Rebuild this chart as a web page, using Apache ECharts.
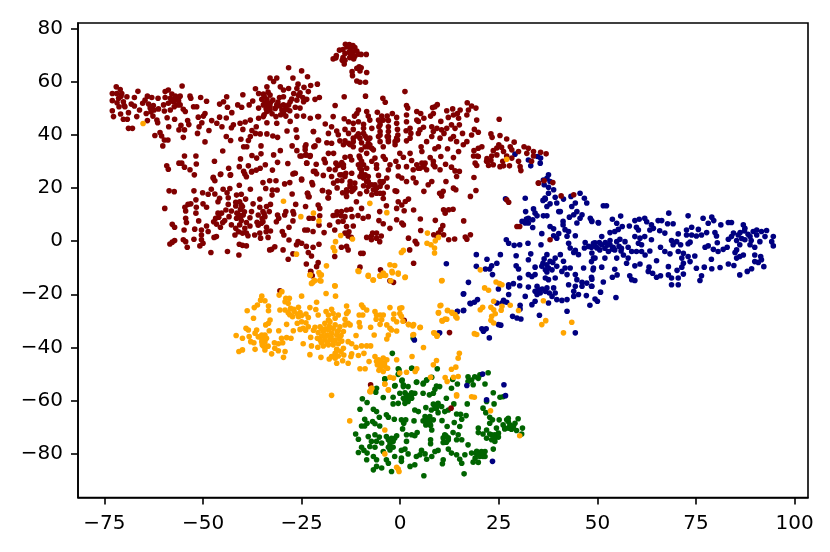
<!DOCTYPE html>
<html>
<head>
<meta charset="utf-8">
<style>html,body{margin:0;padding:0;background:#fff}#main{width:830px;height:552px}</style>
<script src="https://cdn.jsdelivr.net/npm/echarts@6/dist/echarts.min.js"></script>
</head>
<body>
<div id="main"></div>
<script>
const xTicks = [-75, -50, -25, 0, 25, 50, 75, 100];
const yTicks = [-80, -60, -40, -20, 0, 20, 40, 60, 80];

const redPoints = [[-72,58],[-71,57],[-73,55.5],[-71.9,55.5],[-70.6,55.5],[-69.3,54.3],[-73,52.8],[-71.4,53.7],[-70.2,52.4],[-71.3,50.5],[-73,49],[-70.9,47.8],[-68.9,48.3],[-72.7,46.8],[-70.2,45.8],[-69.2,45.8],[-69.8,50.5],[-68.2,51.5],[-67.4,50.8],[-66.5,56.3],[-67.4,54],[-66.8,46.8],[-66.1,49.3],[-65.3,51.8],[-64.1,54.5],[-63,54],[-64.7,53],[-63.8,51.5],[-64.4,48],[-63.4,50],[-62.4,49.3],[-61.3,49.7],[-62.7,47],[-64.1,45.3],[-61.7,45.5],[-61.5,44.5],[-61.4,53.7],[-59.6,56.2],[-58.8,56.8],[-57.9,55.3],[-59.6,54],[-58.3,53.7],[-57,54.5],[-55.8,54.5],[-55.3,58.3],[-57.5,52.4],[-56.2,52.8],[-58.8,51.8],[-57.3,50.5],[-55.8,51.2],[-55,49.6],[-54.5,48.7],[-58.3,49.3],[-59.8,48.9],[-60,51.2],[-59.1,46.4],[-57.2,45.8],[-58.7,43],[-55.6,43.5],[-56.1,41.8],[-54.7,41.8],[-55,39],[-60.9,40.8],[-60.5,39.5],[-62.2,39.7],[-59.8,38],[-58.9,38],[-60.2,35.8],[-68.9,42.4],[-67.9,42.4],[-53.3,54.5],[-53.1,53.7],[-50.6,54],[-49.1,52.6],[-52.4,50.5],[-51.6,50.5],[-49.5,48],[-49.9,47],[-51.2,46.6],[-53.9,45.3],[-53.6,43.8],[-50.3,44.5],[-51,43],[-51.4,40.5],[-48.5,41.6],[-49.5,37.3],[-47.8,45.3],[-46.5,44.3],[-45.8,46.6],[-45.2,43],[-44.1,46.3],[-45.8,51.5],[-44.8,52.4],[-44,54.3],[-43.8,50.3],[-42.7,48.3],[-41.2,51.2],[-39.9,55],[-40.2,50.3],[-38.3,51.2],[-37.4,52.7],[-42.3,43.7],[-42.8,42.6],[-40.6,44.3],[-39.3,44.8],[-38,45.5],[-39.9,42],[-44.1,39.3],[-43,37.8],[-40.4,38.3],[-37.6,41.6],[-36.7,40.5],[-38,39.3],[-38.5,37.8],[-35.5,40.3],[-33.8,40.3],[-32.3,39.5],[-31.1,39],[-39.7,35.5],[-38.9,35.5],[-35.3,35.8],[-45,33.9],[-54.7,32],[-51.8,32],[-56.1,29.3],[-55.4,29.3],[-51.7,29],[-47.1,30],[-59.2,28.3],[-58.8,27],[-54.7,27.8],[-53.3,26.8],[-52.2,24.9],[-43.5,27.4],[-45.5,25.2],[-47.4,24],[-43,24.9],[-40.5,30.9],[-37.6,32.2],[-35.3,32.8],[-36.4,31.2],[-40.8,28],[-38.5,28.3],[-39.7,26.2],[-37.6,26.2],[-35.5,27.4],[-34.2,28.7],[-31.1,29.6],[-28.5,29.2],[-32.1,32.4],[-30.4,34],[-27.4,35.8],[-26.2,39],[-28.7,41.4],[-22,41.2],[-26.2,34],[-25.4,32],[-24.1,35.5],[-23.9,32.4],[-22.8,32.2],[-23.7,29.3],[-21.6,35.8],[-20.7,37.8],[-26.9,25.5],[-25,23.3],[-21.6,26.2],
[-28.3,65.2],[-25,64],[-33,61.3],[-31.3,61.3],[-27.2,61.3],[-23.5,61.8],[-21,59],[-25.9,59],[-32.1,60],[-33.8,58],[-30.4,58],[-22.7,58.5],[-36.7,57.3],[-28.3,57.4],[-26.2,57.4],[-24.4,57.8],[-29.6,56.8],[-35.9,55.5],[-34.7,55.3],[-33,54.9],[-30.6,54],[-27,55.5],[-25.4,55.8],[-23.3,56.2],[-20.5,54],[-35.1,53.3],[-33.8,53.3],[-32.3,53],[-29.6,54.3],[-27.9,52.4],[-26.2,53],[-24.5,52.4],[-21.6,53.3],[-34.7,51.2],[-33,50.5],[-31.3,51.2],[-29.6,51.2],[-28.3,51.2],[-23.7,53.3],[-35.9,50],[-33.8,48.7],[-31.7,49.9],[-30,49.3],[-28.8,49.5],[-26.6,50.3],[-25.4,50],[-35.9,46.2],[-34.7,46.8],[-33,49.3],[-31.5,46.8],[-29.6,48],[-26.2,47],[-24.5,47],[-22.8,46.2],[-20.7,46.8],[-33.8,44.5],[-31.3,44.3],[-27.9,45],[-26.4,41.8],[-36.5,43],
[-13.9,74],[-12.9,73.9],[-12,73.5],[-11.5,72.8],[-13.5,73],[-12.6,72.5],[-14.5,72],[-11,71.5],[-12,71],[-13,71],[-14,70.5],[-12.5,70],[-11.5,69.5],[-10.6,70.3],[-12.8,69],[-11.8,68.5],[-9.9,70.2],[-8.6,70.2],[-15.4,71.8],[-16.2,69.8],[-17,68.5],[-16.3,68.9],[-14.5,69],[-14,68],[-14.2,66.6],[-14.7,68],[-10.4,65.5],[-9.9,65.2],[-11,65],[-10.2,64],[-8.5,63.4],[-12.2,63.7],[-12.1,62.2],[-11,60.2],[-10.2,59.7],[-8.8,59.7],
[1.2,56.2],[-14.2,54.3],[-8.8,54.5],[-4.4,53.7],[-3.8,52.2],[-16.5,51],[1.6,51],[1.9,50],[-10.6,49.3],[-11,48],[-11.6,47],[-8.5,48.7],[-8.1,47],[-5.8,48.4],[-4.7,47],[-3.3,47],[-2,48],[-17,46.8],[-20.9,46.8],[-14.2,46],[-13.1,44.9],[-11.9,44.3],[-10.6,44.9],[-9.3,43.9],[-7.7,45.5],[-5.5,45.5],[-4.3,45.5],[-3,45.3],[-0.9,46.5],[-0.9,44.3],[1.6,47.4],[1.6,44.9],[4.2,48.7],[5.2,48],[6,46.2],[4.2,45.5],[4.6,45],[7.7,47],[8.4,48],[8.8,50.5],[9.4,51.3],[8.2,50.2],[10.3,45],[11.8,49],[13.3,49.7],[12.2,46.5],[13.5,47.4],[15.2,49.3],[14.5,48],[14.8,46.2],[17,52],[18.1,50.8],[19.2,50],[17.3,49.3],[16.9,47.4],[19.4,45.5],[25.1,45.8],
[-19,44],[-17.4,43],[-16.1,41.4],[-18.2,40.5],[-15.7,40],[-22,41.2],[-14,42],[-11.9,42],[-9.3,42.4],[-7.2,42.4],[-5.4,43],[-5.1,41.2],[-3,43],[-3,41.2],[-0.7,42],[1.5,41.5],[2.5,42.4],[2.7,40.5],[5,41.8],[5.9,42.8],[4.6,40.5],[8,43],[9.3,42.4],[8.4,41.2],[10.5,41.8],[11.8,42.4],[13,43.7],[15,43.7],[13.9,42.4],[15.8,40.5],[18.8,42],[19.8,40.9],[18.1,39.9],[23,40.3],[23.3,39],[25.3,39.7],[27,38.4],[28.9,37.2],[-13.1,40.5],[-11,39.5],[-10.2,38.7],[-8.9,39.5],[-7.7,38.7],[-5.5,39.3],[-3,39.3],[-0.6,39.9],[-0.7,38],[2.5,38.7],[1.6,37.7],[5.3,35.5],[6.7,37.4],[8,39.3],[10.1,38.7],[11.1,40.5],[13.5,39.3],[12.8,38.4],[14.3,37.4],[16.9,37.4],[16,36.2],
[-15.3,37.7],[-14,37.7],[-11.9,37.4],[-9.8,37],[-8.1,36.8],[-5.1,37.4],[-3,37.4],[-18.6,37],[-17.4,36.8],[-20.8,38],[-21.9,35.5],[-23.9,36.2],[-24.1,34.3],[-23.9,32.4],[-25,32],[-22.9,31.8],[-23.7,29.3],[-12.7,36.2],[-11.9,35.5],[-8.1,35.5],[-6.8,34.3],[-4.3,35.5],[-1.3,36.2],[-9.9,34.3],[9.7,35.5],[8.8,34.7],[12,34.7],[20.7,35.5],[19.8,34.9],[18.7,34],[18.6,32],[19.8,31.8],[14.8,33.7],[25,36.2],[24.5,35],[25.7,35.3],[23.6,34],[26.2,33.7],[27.9,35.5],[28.3,34.3],[30,33.7],[31.4,35.5],[32.5,34.9],[32.1,33],[33.8,33.7],[35.6,33.4],[37,32.8],[33.8,32],[33.3,30],[23.2,32],[24.5,32.4],[21.9,30],[23,30.3],[22.4,28.4],[23.6,28.7],[25.3,28],[26.2,28.3],[27.7,28.3],[28.3,31.2],[30,30],[30.4,28],[30.6,26.5],[19,29.3],[19.4,28.4],[18.7,23.9],[19.2,19],[17.8,16.8],[35,21.8],
[-18.2,33],[-16.9,33],[-19.3,30.8],[-19,29.5],[-21.3,28.9],[-16.3,29.3],[-14.8,29.5],[-14,31.5],[-12.7,31.8],[-12.3,30.5],[-10.4,32],[-9.8,30],[-8.5,33],[-6.4,31.2],[-7.2,30],[-4.3,31.8],[-3.8,30.8],[-0.1,33],[0.8,31.5],[2.5,33],[2.9,30.3],[5.5,33.7],[7.6,31.4],[10.3,31.8],[13.5,31.4],[-1.1,30],[-0.5,28],[1.6,28],[4.2,28.7],[5.5,29.3],[6,28],[5,27.4],[3.3,26.8],[6.7,26.8],[8.4,30],[8.8,28],[10.1,26.8],[11.5,28.9],[13,27.8],[13.9,26.4],[15,26.2],[-15.9,28.3],[-14.4,27.8],[-16.5,26.8],[-22,26.2],[-21.2,25.3],[-19.5,24.7],[-18,27],[-17.4,24.3],[-15.3,24.9],[-13.8,25.5],[-12.3,25.5],[-10.2,27.4],[-9.8,25.5],[-9.3,23.7],[-8.1,22.4],[-6,28.7],[-6,27.4],[-5.5,24.7],[-2.6,28.7],[-3,26.8],[-3.4,23.7],[-4.7,21.8],[-0.5,24.5],[0.4,23.7],[1.6,22.4],[3.3,23.7],[4,22],[14.3,24.3],[11.6,22.4],[8,22.4],[7.1,21.2],[13.5,19.9],[14.1,19.3],[6,18.7],[10.9,18.7],[10,18],[10.5,17],[-25,23],[-22.4,22],[-22.2,21.2],[-23.5,18],[-23.3,16.8],[-19.7,19],[-18.2,18.4],[-18.2,16.2],[-16.9,21.8],[-15.9,22.7],[-14.8,22.7],[-12.7,22.4],[-11.5,21.8],[-12.7,20.5],[-11.5,20],[-13.6,19.3],[-10.2,17.8],[-9.3,20.8],[-8.1,20.5],[-8.5,18.7],[-6.8,19.3],[-7.2,17.4],[-5.1,20.5],[-6,18],[-4.3,18],[-3.3,20.3],[-1.3,18.9],[-0.9,18.7],[-13.6,16.8],
[-47.4,23.6],[-47,22.7],[-45.6,25],[-43.1,24.8],[-39,24.2],[-39.4,25.2],[-37.7,26],[-36.5,26.7],[-32.4,26.7],[-34.8,22],[-33.1,22.7],[-31.5,22.7],[-27.2,25.2],[-26.6,25.5],[-29.3,21.5],[-28,22],[-40.8,21],[-38,19.5],[-34.1,19.8],[-32.4,19.2],[-31.2,19.2],[-32.5,17.3],[-27.4,17.7],[-52.3,18.9],[-58.6,18.9],[-57.3,18.6],[-50.1,18.2],[-48.7,17.6],[-47.9,19.5],[-47,17.7],[-44.9,19.5],[-43.9,18.2],[-43.2,19.8],[-43.6,16.3],[-41.5,17.3],[-40.3,17.6],[-39.2,15.8],[-45.8,16.1],[-46.2,14.8],[-51.8,15.5],[-50,14],[-49.1,12.7],[-53.1,14],[-53.8,13.8],[-59.7,12.3],[-54.6,12.7],[-54.4,11.3],[-51.7,12.7],[-51.8,10.5],[-43.6,13.8],[-41.7,14.6],[-40.7,14.8],[-41.7,13.2],[-40.3,13.6],[-37.3,14],[-35.6,15.8],[-32.9,13.8],[-44.2,11.7],[-42.8,11.3],[-40.5,12],[-41.4,10.5],[-39.8,9.8],[-37.7,11.1],[-35.6,12.7],[-33.9,13],[-33.2,11.1],[-34.8,11.1],[-36,9.8],[-34.3,9.2],[-46.2,10.5],[-45.3,10.5],[-46.8,8.6],[-43.4,9.2],[-44.5,7.7],[-41.5,8.6],[-40.3,7.7],[-38.1,8.8],[-31.1,9.8],[-30.8,8.6],[-31.4,7.3],[-29,11.1],[-29.3,9.8],[-27.2,11.1],[-27,10.2],[-27.2,7.6],[-26.5,13.8],[-24,13],[-23.5,18],[-23.1,16.7],[-20.8,13.6],[-20.4,12.3],[-19.7,19],[-18,18.3],[-18.3,16.3],[-16,20],[-14.6,18.2],[-13.6,18.6],[-54.4,8.6],[-54.2,7],[-51.1,7.6],[-57.8,6.3],[-57.2,5.2],[-49.1,5.7],[-47.3,7.3],[-46.6,6.4],[-45.6,5.2],[-50.4,4.2],[-48.7,3.6],[-52.1,4.5],[-54.8,4.2],[-42.8,6.1],[-41.7,4.8],[-40.7,6.1],[-39.4,4.8],[-38.1,5.7],[-36.3,7.1],[-35.2,6.7],[-34.8,7.3],[-33.9,5.2],[-32.9,3.8],[-41.9,2.3],[-39,3],[-38.6,2],[-36.9,2.3],[-35.6,3],[-35.4,1.1],[-33.5,1.4],[-46.6,1.7],[-47.2,1.4],[-52.3,0.7],[-50.4,2.3],[-50.4,0.5],[-50,-0.8],[-50.8,-1.8],[-57.2,0.2],[-57.8,-0.4],[-58.4,-1.1],[-55,0.5],[-54.4,-0.2],[-54,-2.3],[-40.8,-1.2],[-40,-1.6],[-39,-1.8],[-48,-4.3],[-43.8,-3.9],[-40.9,-5.2],[-32.6,-3.1],[-31.8,-2.1],[-33.1,-3.3],[-29.7,-3.3],[-28.4,-6.8],[-27.2,-4.8],[-29.9,3.6],[-29.5,2.3],[-28.2,0.4],[-28.2,5.2],[-25.9,-0.2],[-26.3,-1.4],[-25,-0.8],[-23.8,-2],[-22.1,-2.3],[-20.6,-1.2],[-23.3,-4.3],[-22.5,-5.6],[-23.8,-8.6],[-20.8,-8.1],[-21.2,-9.6],[-22.7,-11.4],[-22.3,-13],[-30.5,-18.7],
[-23.5,4.2],[-24.2,4.2],[-22.1,3.6],[-23.1,8.6],[-22.1,8.6],[-20.4,9.5],[-20.6,6],[-19.3,3.2],[-17.9,6],[-17,9.6],[-16.2,9.8],[-14.9,11.1],[-13.6,11.7],[-15.7,7.3],[-14,9.2],[-16.6,4.2],[-13.6,5.5],[-12.2,9.2],[-10.7,9.6],[-8.1,9.2],[-9.4,8.6],[-9.8,12.3],[-11.1,14.8],[-5.2,11.1],[-3.5,13.3],[-5.4,7.7],[-4.3,6.5],[-2.6,4.8],[-11.9,5.7],[-13.2,1.9],[-12.4,1.4],[-8.5,1.4],[-7.3,1.9],[-6,1.1],[-4.8,1.9],[-7.3,0.5],[-5.2,-0.2],[-14.9,-2.3],[-13.6,-2],[-13.2,-3.3],[-16.6,-5.8],[-9.4,-4.6],[-10,-4.6],[-0.9,8],[-0.5,14.8],[-0.9,12.3],[-4.3,16],
[1,11.4],[3.4,11.7],[2.1,15.8],[1.3,14.9],[0.4,13.6],[27,15.5],[27.5,14.6],[11,11.8],[11.4,10.5],[12.3,11.8],[13.4,12],[5.1,8.3],[8.9,7.8],[16.1,7.6],[0.4,6.8],[0.8,6.1],[5.2,4],[10.8,5.8],[10.3,4.3],[9.7,3],[8.5,2.4],[9.3,2],[11,2.4],[2.1,1.1],[3.8,-0.1],[4.2,-1],[12.3,0.5],[13.8,0.8],[16.5,1.5],[17.8,2.4],[16.9,0.7],[2.4,-3.3],[3.4,-8.3],[29.6,5.5],[30.3,5.5],[38,0.5],[35.1,21.8],[36.5,22.7],[38.7,22],[40.8,17],[44,17.4],[1,-29.8],[12.5,-34.4],[-22.7,-11.5],[-2.6,-14.9],[-1.7,-15.5],[-10.2,-9.8],[-5,-10.8],[-7.5,-54],[12.9,-62.8],
[-9.3,40.5],[-8.5,38.7],[-10.6,40.3],[-11.9,38.7],[-7.7,36.2],[-8.9,35.5],[-7.2,34.9],[-10.2,31.2],[-9.3,28.7],[-10.6,28.7],[-8.5,27.4],[-9.8,26.8],[-8.9,24.9],[-8.1,24.3],[-10.2,24.3],[-7.2,21.2],[-8.5,22.4],[-6.4,21.2],[-6,19.9],[-5.1,18],[-5.1,22.4],[-4.3,22.4],[-14.4,28.7],[-15.3,28.7],[-14.8,24.9],[-14,24.3],[-12.7,21.2],[-11.9,19.3],[-12.3,18.7],[5.9,28],[6.3,29.3],[4.6,27.4],[8.4,28.7],[-13.1,36.8],[-14.4,36.2],[-5.1,43.7],[-5.1,44.9],[-3.3,39.3],[-3,38],[-5.1,39.9],[-0.9,38.7],[-1.3,37.4],
[-34.3,52],[-32.9,52],[-33.5,51.5],[-31,52.3],[-30.5,50.8],[-29,50],[-28,49],[-30.3,47.5],[-29,47],[-34,49.8],[-34.5,47.5],[-32.5,47.9],[-27.5,53.4],[-25.8,54.8],[-24.7,54],[-33.5,56],[-34.5,54.5],[-70.8,54.5],[-71.8,52],[-70,51],[-57,53.6],[-58,52.8],[-56.5,51.2],[-62.6,51],[-63.2,48.6],
[-41,10],[-40.5,9],[-39.5,11],[-40,13],[-39,7],[-41,3.5],[-40,3],[-35,8.5],[-34.5,10.3],[-36,6],[-34,3.5],[-46,9],[-45,7],[-15,9.5],[-14.5,7.5],[-16,11],[-12.5,12],[-13,3.5],[-14,3],[-7,3],[-6,3],[19.5,32],[22,31],[26,30],[27,32]];

const navyPoints = [[37.6,24.9],[37.2,23.6],[36.3,23],[38,22.4],[37.6,20.2],[38.9,19.3],[37.6,18],[39.3,16.5],[41.4,15.8],[36.8,15.8],[36.2,15.3],[31.7,16.1],[38,14],[39.7,14.3],[37.2,13],[40.6,11.1],[40.2,11.1],[33.8,12.1],[31.8,11.1],[34.2,10.5],[34.7,9.5],[36.3,9.5],[37.2,9.5],[32,8.3],[32.5,8.6],[30.9,7.4],[31.7,6.8],[32.5,6.8],[33.6,8],[33.6,5.1],[41.3,7.4],[41.3,6.1],[38,5.5],[38.9,4.6],[43.3,16.8],[45.6,18],[46.7,16.1],[47.3,14.3],[44.4,14.3],[43.5,13],[44.8,11.1],[44,9.9],[42.9,9],[48.2,8.6],[48.6,7.4],[46.1,9.9],[50.3,6.8],[44.8,6.8],[45.6,8.6],[41.8,4.3],[42.7,3.6],[42.3,1.8],[44.4,2],[35.9,2.8],[38.9,2],[40.2,2.8],[39.7,1.1],[35.7,-1.4],[26.9,0.5],[27.5,-0.8],[28.9,-1.6],[30.3,-1.4],[32.4,-0.8],[42.7,-0.8],[43.1,-2.6],[44.4,-3.5],[46.9,-0.5],[47.8,-2],[46.7,-2.6],[49,-0.8],[49.9,-2.6],[45.2,-5.1],[44,-4.3],[48.6,-4.5],[49,-6.4],[25.4,-5.1],[19.3,-5.1],[22,-6.8],[29.4,-5.5],[33.1,-4.8],[32.5,-7],[19.3,-9.5],[24.5,-8.3],[23.2,-9.3],[22.7,-10.5],[21.6,-10.5],[23.4,-12.6],[11.7,-8.5],[29.4,-9.3],[30,-10.5],[37.2,-5.1],[40.6,-5.1],[39.3,-6.4],[38,-7.6],[36.2,-8.3],[37.2,-8.9],[35.9,-9.5],[34.2,-9.8],[36.8,-10.8],[37.6,-10.1],[39.7,-9.5],[38.5,-10.8],[41.4,-7.6],[43.1,-10.1],[41.8,-10.1],[41,-11.4],[46.5,-10.1],[49,-10.1],[44.4,-12.6],[42.3,-12.6],[32.5,-12.6],[34.2,-12.6],[33.4,-13.3],[30.3,-13.9],[36.8,-13.9],[37.6,-14.5],[39.3,-13.9],[44.8,-14.5],[46.1,-15.5],[48.6,-14.3],[47.3,-15.8],[42.7,-16.4],[44.4,-17],[46.1,-17],[48.6,-17],[27.5,-16.4],[28.7,-16],[30.3,-16.8],[27.5,-17.3],[24.9,-18],[32.5,-17.3],[34.7,-17],[35.1,-18.3],[34.2,-18.9],[34.7,-20.1],[35.5,-19.5],[37.2,-17.6],[38.9,-17.6],[36.8,-18.9],[39.3,-19.5],[38.5,-20.8],[37.6,-23.3],[39.7,-22],[41,-22.3],[42.3,-22],[44,-18.9],[44,-20.8],[45.2,-20.1],[47.2,-20.5],[50,-22.6],[48.1,-24.1],[42.3,-26.4],[16.1,-19.8],[27.5,-20.1],[31.7,-20.8],[19.6,-22],[18.8,-23],[17.9,-23.5],[16.1,-26],[14.5,-26.4],[26.2,-22.3],[27,-23],[25.8,-23.3],[24.5,-23.3],[30.4,-24.1],[30.4,-25.5],[28.5,-28.3],[29.6,-28.9],[30.6,-29.3],[34.2,-22.6],[33.4,-23.9],[35.3,-27.9],[24.9,-31.4],[25.5,-31.6],[20.7,-33],[21.8,-33],[21.1,-33.9],[10,-34.5],[22.6,-36.4],[44.4,-34.5],
[51.5,13.3],[52.3,13.3],[55.9,9.4],[53.8,8.2],[48.5,7.7],[50.2,7],[54.9,6.7],[56.3,5.5],[55.3,4.4],[54.4,3.6],[53.2,3.2],[58.1,5.7],[59.5,7.7],[60.6,8.2],[62,8.6],[62.5,7.3],[59.9,5.2],[60.4,4.2],[63.7,6.1],[65.4,7.7],[66.3,7.7],[68.1,10.5],[67.8,6.5],[69.2,6.5],[73,9.5],[76.8,8.6],[79,9],[79.5,7.7],[78.1,6.7],[81.3,6.1],[83.2,7],[84,7],[87,6.1],[87.4,4.8],[63.3,4.2],[64.2,4.8],[65.8,3.9],[67.1,3],[59.5,1.7],[60.8,1.1],[62,1.7],[63.7,0.5],[51.1,1.7],[55.7,0.7],[57,-0.2],[54.9,-0.2],[53.2,0.2],[49.4,-0.6],[51.1,-1.4],[48.5,-2.3],[49.8,-2.3],[51.9,-2.7],[53.2,-1.4],[54,-2.3],[50.6,-3.3],[52.8,-3.9],[54.4,-3.3],[56.1,-2.7],[57.8,-2.3],[60.4,-0.8],[61.2,-1.4],[58.7,-3.9],[59.9,-3.9],[61.2,-3.9],[63.3,-3.7],[62.1,-5.2],[56.6,-5.2],[57.8,-6.4],[51.9,-6.4],[49.4,-6.4],[48.5,-7.7],[54.9,-6.4],[57.4,-8.3],[59.5,-9.3],[60.8,-8.6],[65,-7.4],[66,-2.3],[67.1,-3.9],[68.4,-4.8],[68.8,0.2],[70.1,-0.2],[69.2,-1.4],[71.1,-1.4],[70.5,2.7],[72.6,4.2],[73.9,5.2],[75.6,4.4],[72.6,2.3],[73.9,2.3],[75.1,1.9],[76.4,2.3],[77.7,3.2],[79.8,3.2],[80.2,1.9],[73.5,-0.4],[73,-1],[77.3,-2.3],[78.1,-1.8],[80.4,-0.6],[79.4,-3.1],[80.6,-3.9],[81.9,-3.1],[82.9,-2.3],[83.2,0.7],[84,1.7],[84.5,3],[85.7,2.3],[85.3,0.2],[86.6,1],[87.4,0.5],[86.1,-1.4],[88.7,1.7],[89.5,3.6],[90.4,4.2],[91.6,3.6],[92.9,4],[90.4,2.3],[92.5,1.7],[94.6,1.7],[94.2,-0.2],[94.6,-1.8],[91.2,-0.2],[88.7,-1.4],[89.9,-2.3],[85.3,-3.3],[84.9,-4.3],[89.9,-5.2],[87,-5.2],[86.1,-5.8],[85.3,-6.4],[91.4,-5.8],[91.6,-7],[89.9,-7.7],[90.8,-8],[92.2,-9.6],[83.2,-8.6],[84.6,-9.2],[89.1,-10.4],[88,-11.4],[86.1,-12.7],[70.5,-3.9],[71.8,-4.6],[73,-5.8],[74.7,-5.6],[71.4,-6.4],[73.5,-7.7],[71.8,-8.3],[71.4,-9.8],[68,-9.6],[78.9,-6.8],[75.1,-10.2],[77.1,-9.8],[79,-10.4],[81.1,-9.9],[63.1,-9.8],[62.9,-11.4],[64,-12.1],[65,-13.6],[66,-13],[68,-12.7],[70.2,-11],[71.8,-12.4],[68.8,-13.9],[70.5,-13.9],[70.5,-16.4],[68.8,-16.4],[76.4,-13],[76,-14.8],[58.2,-13],[58.7,-14.5],[59.5,-14.8],[54.4,-10.6],[55,-12.7],[53.8,-13.6],[51.1,-9.8],[48.9,-10.8],[48.5,-13.6],[51.5,-15.4],[48.5,-17],[50.8,-19.2],[54.7,-21.2],[49.4,-21.8],
[29.1,32.7],[32.5,30.5],[34.8,31.8],[35.6,31.2],[33.1,28.3],[35.5,29.3],[36.5,21.2],[26.7,15.9],[36.7,16.2],[3.6,-37.2],[9.7,-34.6],[16.9,-54.3],[20.9,-50],[26.3,-54],[26.7,-58.1],[21.9,-59.7],[23.4,-82.8],[17.3,-15.5],[16,-19.9],[16,-26.2],[14.5,-26.5],[17.7,-23.4],
[52.5,-1.5],[53.8,-3],[55.5,-2],[52,-0.5],[56,-3.7],[50.5,-0.5],[88.2,2.6],[89,0.2],[86.2,3.2],[87.3,3.8],[36.5,-6.7],[38.7,-8],[37.2,-11.6],[36,-18],[37.8,-19.5]];

const greenPoints = [[-0.3,-48.4],[2.9,-47.8],[-3.9,-51.8],[22.3,-49.5],[20.2,-50.3],[18.9,-51],[17.2,-51],[19.8,-51.6],[18.1,-52.2],[17.2,-52.8],[18.5,-54],[21.5,-53.7],[13.3,-52],[14.5,-53.7],[13,-55.3],[0.5,-52.2],[-1.4,-54.5],[0.8,-54],[2,-54.7],[4.1,-53.1],[5.8,-53.7],[6.7,-52.2],[9.2,-54.5],[10,-54.7],[8.8,-55.7],[8.4,-57.2],[-6,-55.3],[-6.2,-56.8],[-0.1,-57.2],[1.2,-57],[2.9,-57],[3.7,-57.2],[5.8,-57.2],[7.4,-57.8],[-4.3,-58.8],[-1.8,-58.7],[0.8,-59.1],[2,-58.7],[11.7,-59.1],[23.6,-57],[25.3,-58.7],[26.1,-58.5],[21.9,-60.3],[23.8,-61.2],[-9.6,-59.3],[-8.4,-60.7],[-1.8,-61.2],[-0.5,-61],[1.2,-61],[2,-60.3],[2.9,-59.1],[-10.2,-63.2],[-6.8,-63.2],[-6,-64.1],[3.7,-63.5],[4.6,-64.1],[6.5,-62.6],[8.4,-61.3],[9.6,-61],[10.5,-62.2],[9.2,-62.8],[7.9,-63.5],[9.6,-64.5],[12.2,-63.5],[11.3,-64.1],[13.6,-61.2],[17,-61.2],[21,-62.8],[21.7,-64.5],[14.3,-65],[15.3,-65.1],[16.7,-65.6],[-3.5,-65.3],[-3,-66.2],[-5.3,-66.2],[-1.5,-67],[-9,-67],[-7,-67.8],[-6.4,-68.7],[-8.4,-68.5],[-9.8,-69.5],[-9,-69.5],[-5.2,-69.5],[0.3,-67.2],[1.4,-67.2],[0.9,-68.5],[3.5,-67.6],[0.6,-70.6],[6.3,-66],[7.5,-66],[5.8,-67.6],[7.1,-67.6],[8.4,-67.2],[6.5,-69.1],[7.7,-69.3],[8,-71],[10.6,-67.5],[13.7,-68.2],[15.6,-67],[15.1,-69.7],[11.9,-69.7],[22.7,-66.2],[23.4,-67.2],[22.7,-68.5],[25.1,-67.2],[27.4,-66.6],[29.9,-66.8],[27.4,-67.8],[26.1,-69.1],[27.8,-69.1],[29.1,-68.5],[31,-70.3],[24.4,-70.3],[26.5,-70.6],[28.2,-70.7],[29.5,-71.2],[30.8,-72.5],[19.8,-70.3],[21.9,-71],[19.8,-72],[21,-72.5],[22.7,-72.5],[24,-72.8],[21.9,-74.1],[23.2,-74.7],[24,-75.3],[24.9,-73.7],[-11.3,-72.5],[-10.6,-74.5],[-8.1,-73.5],[-6.4,-72.8],[-5.3,-73.7],[-3.5,-73.5],[-0.9,-73.2],[-1.4,-74.1],[1.6,-72.8],[2.9,-72.8],[4.3,-72],[3.7,-73.2],[1.6,-75.3],[-7.3,-75.3],[-6,-75.3],[-4.7,-75.9],[-3,-74.7],[-1.8,-75.3],[-2.6,-76.6],[-1.8,-77.5],[-7.7,-77.2],[-6.4,-77.5],[7.7,-74.7],[7.7,-76.2],[11.3,-72.8],[10.9,-74],[12.2,-74],[11.7,-75.6],[10.9,-75.7],[13.4,-72],[14.3,-74.7],[15.6,-74.7],[14.7,-72.8],[17.2,-76.6],[23.6,-78.2],[-9.8,-77.5],[-9.2,-78.7],[-10.6,-79.5],[-8.4,-79.7],[-4.3,-79.1],[-2.6,-78.5],[0.3,-78.7],[1.2,-78.2],[2,-80],[5.4,-78.7],[5,-80.3],[4.1,-81],[6.3,-80],[8.8,-79.1],[9.6,-78.7],[8,-81],[6.7,-82],[12.2,-78.2],[13,-79.7],[14.3,-80.3],[16.4,-80.3],[15.1,-82],[18.1,-79.7],[19.4,-80],[20.6,-79.1],[21.5,-79.1],[20.2,-81],[21.5,-81],[19,-81.6],[19.8,-83.2],[18.5,-83.1],[-1.4,-81],[0.3,-81.6],[0.3,-82.8],[-6.8,-81],[-8.5,-82.2],[-6,-82.2],[-3.5,-82.2],[-3,-83.5],[-6,-84.7],[-6.8,-86],[-4.7,-85.3],[-2.2,-86.6],[2.5,-84.7],[3.7,-84.1],[10.9,-82.2],[10.7,-83.7],[15.6,-83.5],[6,-88.2],[16.2,-87.5],[3.3,-36.5],[-2,-42.2],[-0.5,-48],[-0.5,-50.1],[3,-47.8],[9.4,-48],[-3.9,-51.9],[0.4,-52.5],[-1.3,-54.3],[0.8,-54.7],[4.2,-53],[5.9,-53.4],[6.7,-52.2],[8,-51.2],
[1.6,-57.8],[2.5,-59],[2.9,-57.8],[1.2,-59.7],[7.1,-66.6],[6.7,-67.8],[7.5,-68.5],[12.2,-74.7],[11.6,-73.2],[-2.6,-75.3],[-2.2,-74.1],[-3,-77.5],[19.4,-79],[21,-81],[20.6,-79.7],[23.2,-72.8],[24,-74.1],[24.9,-72.2],[26.5,-70.3],[27.4,-70.3],[28.7,-69.7],[27,-67.2],[9.2,-61.6],[8.8,-62.8]];

const orangePoints = [[-29.6,15],[-25.2,9.2],[-22,10.5],[-20.6,7.6],[-7.7,14.2],[-3.4,10.7],[-15.1,2.1],[-12.1,0.8],[-16.4,-0.2],[-17,-2.4],[-16.6,-3.7],[-26.3,-4.9],[-18.7,-9.3],[-20.6,-11.8],[-20,-12.7],[-22.8,-12.7],[-21.7,-14.9],[-20.4,-14.8],[-22.2,-15.6],[-16.6,-16.8],[-10.7,-11.2],[-8.1,-12.9],[-6.9,-14.6],[-5.2,-13],[-4.3,-12],[-3.7,-12.9],[-2.1,-11.4],[-2.6,-8.9],[-1.4,-9.2],[-0.5,-12],[-2.4,-14.9],[27,30.8],[-65.2,44.2],
[6.9,3],[9.7,1.4],[8.9,0.1],[6.8,-0.8],[7.8,-1.4],[8.7,-2.6],[8.7,-4.5],[0.8,-3.5],[0.3,-4.3],[1.3,-13.5],[10.6,-14.8],[24.3,-15.4],[25.2,-16],[25.8,-16.4],[21.4,-17.6],[22.4,-18.5],[20.3,-10.8],[10.3,-24.1],[9.7,-27],[12,-26],[13.1,-26.8],[13.9,-27.6],[14.4,-28.9],[11.4,-29.3],[10.6,-29.9],[23.7,-22.6],[20.3,-25.8],[20.9,-24.9],[23,-24.9],[24.1,-27.3],[23.7,-25.8],[25.8,-24.5],[25.6,-26],[23.2,-28.3],[23,-29.8],[23.7,-30.8],[27.9,-24.1],[30,-26.1],[36.3,-22.4],[35.9,-31.4],[36.9,-29.9],[43.5,-30.5],[41.4,-34.5],[2.1,-31.4],[3.4,-31.4],[5.1,-32.4],[0.4,-25.1],[0.3,-28.3],[0.7,-30.1],[3.4,-35.1],[8.5,-34.5],[9.3,-35.8],[18.8,-34.8],[19.4,-35.1],
[-16.5,-16.9],[-16.4,-20.7],[-18.8,-19.7],[-25,-20.7],[-30.7,-20.3],[-30,-19],[-29,-21.5],[-35.1,-20.7],[-35.4,-22.2],[-34.3,-22.4],[-28.1,-21.5],[-29.2,-22.8],[-28.4,-23.4],[-21.2,-23],[-38.8,-26.2],[-37,-25],[-36.2,-24],[-33.4,-24.4],[-33.4,-26.2],[-30.5,-25.9],[-29.2,-25.9],[-27.8,-25.3],[-25.8,-24.9],[-22.9,-25],[-21.4,-25.7],[-28.4,-26.9],[-26.9,-26.5],[-25.4,-26.9],[-23.9,-27.4],[-37.2,-29],[-27.3,-28.4],[-25.8,-28.4],[-23.3,-28.7],[-20.8,-27.8],[-33,-29.7],[-33.4,-30.9],[-34.1,-31.5],[-28.8,-31.3],[-26.1,-30.9],[-25,-30.3],[-23.9,-30.7],[-23.3,-32.2],[-18.8,-26.5],[-17.4,-25.6],[-17,-27.2],[-18.2,-27.8],[-15.7,-27.8],[-16.5,-29],[-18.2,-29.7],[-13.6,-24.4],[-13.2,-26.5],[-13.6,-27.2],[-14,-29.4],[-13.2,-30.9],[-17.8,-30.3],[-19.1,-30.9],[-20.3,-32.2],[-21.6,-32.4],[-16.5,-31.5],[-15.3,-32.2],[-14,-31.5],[-12.7,-31.5],[-39.1,-32.8],[-38.5,-33.4],[-36.4,-33.4],[-36.8,-34.6],[-33.2,-33.7],[-30.8,-33.7],[-27.1,-33.7],[-25.4,-33.2],[-24.6,-32.8],[-41.6,-35.5],[-40,-36.5],[-38.3,-35.9],[-37.9,-37.8],[-37.1,-38.2],[-35.1,-35.3],[-34.3,-35.3],[-35.1,-36.5],[-33.9,-36.5],[-35.1,-37.8],[-34.3,-37.8],[-34.7,-39.4],[-34.3,-40.9],[-31.9,-38.2],[-30.1,-36.5],[-28.8,-36.3],[-27.7,-36.5],[-30.9,-38.6],[-29.8,-38.2],[-31.8,-40.3],[-32.6,-42.4],[-30.9,-41.2],[-29.2,-41.5],[-29.6,-43.7],[-40,-40.9],[-40.9,-41.5],[-36.8,-40.7],[-22.7,-36.2],[-20.8,-34.4],[-19.5,-34],[-18.2,-33.4],[-17,-32.8],[-19.9,-35.7],[-18.6,-35.3],[-17.4,-34.6],[-15.7,-33.7],[-16.1,-35.3],[-20.3,-37.2],[-19.1,-37.2],[-17.8,-36.9],[-16.5,-37.2],[-15.5,-36.5],[-14.4,-34],[-24.6,-38.6],[-22.5,-39.4],[-20.9,-39.9],[-19.5,-39.4],[-18.2,-39],[-17,-39],[-15.7,-38.6],[-16.1,-40.7],[-16.5,-42.2],[-14.4,-40.3],[-13.2,-37.8],[-12.3,-38.6],[-11.2,-39.9],[-9.8,-39.4],[-8.5,-39.4],[-7.5,-39.4],[-22.9,-42.7],[-20.1,-43.7],[-17.4,-43.4],[-18,-44.3],[-15.7,-43.2],[-14.3,-42.8],[-12.3,-42.4],[-12.5,-43.4],[-10.6,-43],[-9.2,-42.2],[-14.6,-45],[-16.1,-45.9],[-13.2,-45.9],[-11.2,-35.5],[-10.4,-30.6],[-10.2,-32.2],[-7.5,-32.4],[-6.6,-35.3],[-9.8,-24],[-9.4,-24.9],[-8.5,-25.9],[-10.4,-27.8],[-9.5,-27.8],[-6.4,-26.5],[-6,-27.8],[-6.1,-29.4],[-5.1,-27.8],[-4.3,-27.8],[-4.7,-29.6],[-5.1,-31.3],[-3.4,-31.5],[-2.6,-25],[-1.6,-27.4],[-0.1,-25.3],[-0.1,-27.2],[-1.7,-29.3],[-0.9,-30.3],[-2.6,-32.8],[-2.2,-33.4],[-0.9,-33.8],[-3,-35.3],[-3.4,-36.8],[2.1,-31.3],[3.2,-31.9],[5,-32.5],[3.2,-35.3],[8.7,-34.6],[9.4,-35.5],[5.9,-40],[-6.4,-43.4],[-7.9,-45.3],[-5.5,-44.6],[-4.3,-44],[-3.4,-44.6],[-5.8,-46.5],[-4.7,-45.9],[-5.1,-47.8],[-3.9,-47.1],[-3.2,-47.8],[-4.3,-49],[-10.2,-48],[-8.9,-48],[-0.9,-44.6],[3,-43.4],[9.2,-44.9],[8.4,-46.5],[4.2,-48],[3.8,-49],[1.6,-49.3],[-0.1,-49.6],[15,-42.2],[14.7,-44],[14.1,-47.4],[13,-48.2],[7.7,-51.2],[11.4,-51.3],[11.9,-52.8],[13.5,-51.2],[14.7,-50.9],[-2.6,-51.2],[-1.7,-51.5],[-3.9,-53.7],[-17.4,-58],[-7.2,-55.3],[-7.7,-56.5],[-3,-55.9],[14.3,-58.2],[10.1,-24.3],[9.7,-26.9],[12,-26.2],[13.2,-27.1],[14.1,-28.4],[10.7,-30],[11.8,-29.4],[10.5,-14.9],[-10.5,-11.4],[1.2,-13.7],[-6.8,-14.6],[-5.1,-13.2],[-4.3,-12.8],[-2,-11.9],[-0.5,-12.4],[-8.1,-13.2],[-20.3,-12.8],[-21.8,-14.7],[-20.1,-15],[-22.5,-15.9],[-22.9,-12.8],
[-12.8,-67.6],[-3.9,-71],[-3.9,-80],[-0.9,-85],[-0.3,-86.6],[-0.5,-85.7],[14.3,-57.8],[18.1,-58.5],[18.8,-58.7],[22.9,-63.8],[30.3,-73.2],[-3,-56],[-3.9,-53.7],[-7.3,-55.3],[-7.5,-56.6],
[-19,-33],[-18,-32],[-17.5,-36],[-19,-36],[-16,-34],[-17,-38],[-20,-38.2],[-18.5,-38.2],[-21,-36.5],[-15,-35.5],[-14.8,-37.6],[-20,-33],[-22,-33.5],[-24,-33.5],[-16.5,-44],[-16,-41],[-15,-41.5],[-25,-28],[-26,-27.5],[-27,-25.6],[-28,-27.7],[-35,-39],[-36,-36],[-33.5,-39.5],[-4.5,-46.8],[-5,-44.9],[-4,-46],[-6,-45.2],[-5.4,-48.6]];

const chart = echarts.init(document.getElementById('main'), null, { renderer: 'canvas' });

function minusLabel(v) {
  return String(v).replace('-', '\u2212');
}

function dots(data, color) {
  return { type: 'scatter', data: data, symbolSize: 5.6, itemStyle: { color: color, opacity: 1 }, silent: true, animation: false };
}

const axisCommon = {
  type: 'value',
  splitLine: { show: false },
  axisLine: { show: true, onZero: false, lineStyle: { color: '#000', width: 1.6 } },
  axisTick: { show: true, length: 7, inside: false, lineStyle: { color: '#000', width: 1.6 } }
};

chart.setOption({
  animation: false,
  backgroundColor: '#fff',
  grid: { left: 78, right: 22, top: 23, bottom: 54.5, show: true, borderColor: '#000', borderWidth: 1.6, backgroundColor: 'transparent' },
  xAxis: Object.assign({}, axisCommon, {
    min: -81.7, max: 103.4,
    axisTick: Object.assign({}, axisCommon.axisTick, { customValues: xTicks }),
    axisLabel: { customValues: xTicks, formatter: minusLabel, color: '#000', fontFamily: 'DejaVu Sans', fontSize: 20, margin: 16 }
  }),
  yAxis: Object.assign({}, axisCommon, {
    min: -96.4, max: 82,
    axisTick: Object.assign({}, axisCommon.axisTick, { customValues: yTicks }),
    axisLabel: { customValues: yTicks, formatter: minusLabel, color: '#000', fontFamily: 'DejaVu Sans', fontSize: 20, margin: 15, padding: [3, 0, 0, 0] }
  }),
  series: [dots(greenPoints, '#006400'), dots(navyPoints, '#000080'), dots(redPoints, '#800000'), dots(orangePoints, '#ffa500')]
});
</script>
</body>
</html>
